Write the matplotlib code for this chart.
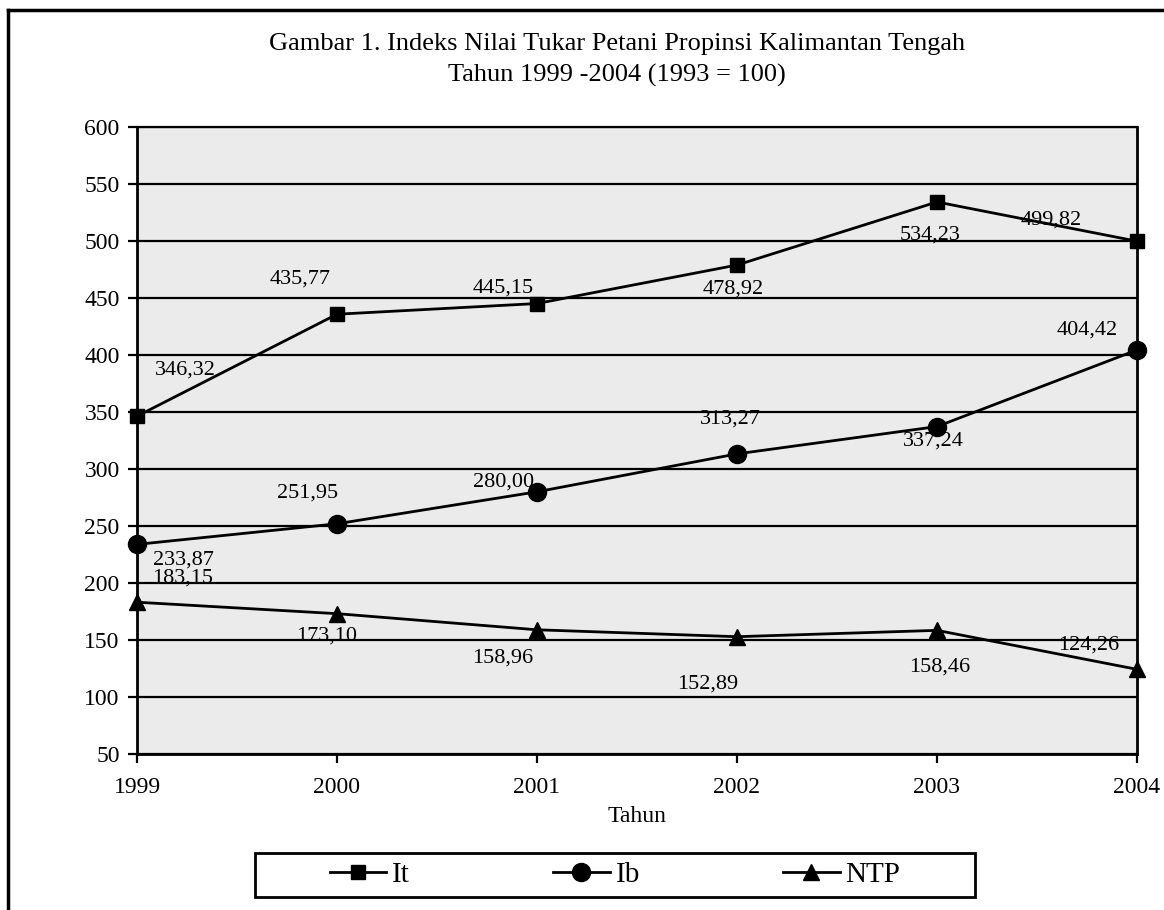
"""Gambar 1: Indeks Nilai Tukar Petani, Kalimantan Tengah 1999-2004."""

import matplotlib

matplotlib.use("Agg")
import matplotlib.pyplot as plt
from matplotlib.lines import Line2D
from matplotlib.patches import Rectangle

years = [1999, 2000, 2001, 2002, 2003, 2004]
it_values = [346.32, 435.77, 445.15, 478.92, 534.23, 499.82]
ib_values = [233.87, 251.95, 280.00, 313.27, 337.24, 404.42]
ntp_values = [183.15, 173.10, 158.96, 152.89, 158.46, 124.26]

# label offsets in pixels (dx, dy with y up)
it_offsets = [(48, 46), (-37, 35), (-34, 15), (-4, -24), (-7, -33), (-86, 21)]
ib_offsets = [(46, -16), (-29, 31), (-33, 10), (-7, 35), (-4, -15), (-50, 20)]
ntp_offsets = [(46, 24), (-10, -22), (-34, -28), (-29, -47), (3, -37), (-48, 24)]

plt.rcParams["font.family"] = ["Liberation Serif", "DejaVu Serif"]

W, H = 1164, 910
fig = plt.figure(figsize=(W / 100, H / 100), dpi=100)
ax = fig.add_axes([137 / W, 1 - 754 / H, (1137 - 137) / W, (754 - 127) / H])
ax.set_facecolor("#ebebeb")

px = 72 / 100  # pixels -> points
series = [
    ("It", it_values, "s", 10, it_offsets),
    ("Ib", ib_values, "o", 13, ib_offsets),
    ("NTP", ntp_values, "^", 12, ntp_offsets),
]
for name, vals, marker, ms, offsets in series:
    ax.plot(years, vals, color="black", lw=2, marker=marker, ms=ms,
            clip_on=False, zorder=4, label=name)
    for x, y, (dx, dy) in zip(years, vals, offsets):
        ax.annotate(f"{y:.2f}".replace(".", ","), (x, y),
                    xytext=(dx * px, dy * px), textcoords="offset points",
                    ha="center", va="center", fontsize=16, zorder=5)

ax.set_xlim(1999, 2004)
ax.set_ylim(50, 600)
ax.set_yticks(range(50, 601, 50))
ax.set_xticks(years)
ax.yaxis.grid(True, color="black", lw=1.6)
ax.set_axisbelow(True)
for s in ax.spines.values():
    s.set_linewidth(2)
ax.spines["top"].set_linewidth(1.6)
ax.tick_params(axis="both", direction="out", length=6.5, width=1.6,
               labelsize=17, colors="black")
ax.tick_params(axis="x", pad=10)
ax.tick_params(axis="y", pad=6)
ax.set_xlabel("Tahun", fontsize=17, labelpad=6)

fig.text(0.53, 1 - 44 / H, "Gambar 1. Indeks Nilai Tukar Petani Propinsi Kalimantan Tengah",
         ha="center", va="center", fontsize=19)
fig.text(0.53, 1 - 75 / H, "Tahun 1999 -2004 (1993 = 100)",
         ha="center", va="center", fontsize=19)

# legend drawn without its own frame; box added separately to match the wide frame
leg = fig.legend(loc="center", bbox_to_anchor=(615 / W, 1 - 875 / H), ncol=3,
                 fontsize=21, frameon=False, handlelength=1.95,
                 columnspacing=4.9, handletextpad=0.2)
fig.add_artist(Rectangle((255 / W, 1 - 897 / H), 720 / W, 44 / H,
                         transform=fig.transFigure, fill=False,
                         edgecolor="black", lw=2))

# outer figure border (top and left visible in the reference)
fig.add_artist(Line2D([8 / W, 1], [1 - 10 / H] * 2, color="black", lw=2.5,
                      transform=fig.transFigure))
fig.add_artist(Line2D([8 / W] * 2, [0, 1 - 10 / H], color="black", lw=2.5,
                      transform=fig.transFigure))

fig.savefig("out.png", dpi=100)
